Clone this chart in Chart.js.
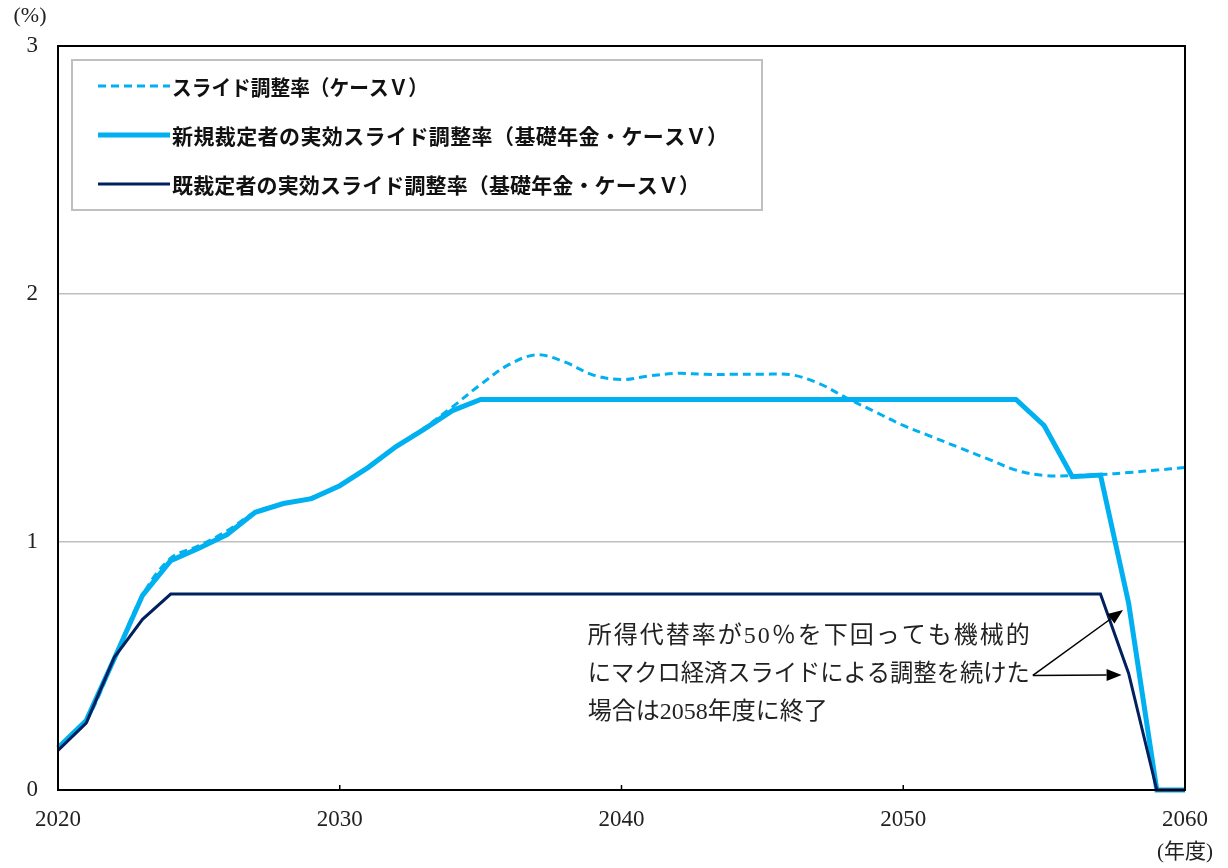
<!DOCTYPE html>
<html>
<head>
<meta charset="utf-8">
<script src="https://cdn.jsdelivr.net/npm/chart.js@4.4.1/dist/chart.umd.min.js"></script>
<style>
  html, body { margin: 0; padding: 0; background: #fff; }
  #wrap { width: 1228px; height: 868px; }
</style>
</head>
<body>
<div id="wrap"><canvas id="chart" width="1228" height="868"></canvas></div>
<script>
// 年度
const years = [2020, 2021, 2022, 2023, 2024, 2025, 2026, 2027, 2028, 2029,
               2030, 2031, 2032, 2033, 2034, 2035, 2036, 2037, 2038, 2039,
               2040, 2041, 2042, 2043, 2044, 2045, 2046, 2047, 2048, 2049,
               2050, 2051, 2052, 2053, 2054, 2055, 2056, 2057, 2058, 2059, 2060];

// スライド調整率（ケースＶ）
const slideRate = [0.17, 0.28, 0.53, 0.785, 0.935, 0.985, 1.045, 1.12, 1.155, 1.18,
                   1.227, 1.30, 1.385, 1.46, 1.545, 1.635, 1.715, 1.755, 1.725, 1.673,
                   1.655, 1.67, 1.68, 1.676, 1.676, 1.676, 1.675, 1.64, 1.58, 1.525,
                   1.47, 1.425, 1.38, 1.335, 1.29, 1.268, 1.268, 1.272, 1.28, 1.29, 1.30];

// 新規裁定者の実効スライド調整率（基礎年金・ケースＶ）
const newRate = [0.17, 0.28, 0.53, 0.785, 0.925, 0.975, 1.03, 1.12, 1.155, 1.175,
                 1.227, 1.30, 1.385, 1.455, 1.53, 1.575, 1.575, 1.575, 1.575, 1.575,
                 1.575, 1.575, 1.575, 1.575, 1.575, 1.575, 1.575, 1.575, 1.575, 1.575,
                 1.575, 1.575, 1.575, 1.575, 1.575, 1.47, 1.263, 1.27, 0.753, 0, 0];

// 既裁定者の実効スライド調整率（基礎年金・ケースＶ）
const oldRate = [0.16, 0.27, 0.535, 0.688, 0.79, 0.79, 0.79, 0.79, 0.79, 0.79,
                 0.79, 0.79, 0.79, 0.79, 0.79, 0.79, 0.79, 0.79, 0.79, 0.79,
                 0.79, 0.79, 0.79, 0.79, 0.79, 0.79, 0.79, 0.79, 0.79, 0.79,
                 0.79, 0.79, 0.79, 0.79, 0.79, 0.79, 0.79, 0.79, 0.47, 0, 0];

const seriesNames = ['スライド調整率（ケースＶ）',
                     '新規裁定者の実効スライド調整率（基礎年金・ケースＶ）',
                     '既裁定者の実効スライド調整率（基礎年金・ケースＶ）'];

const yTicks = [0, 1, 2, 3];
const xTicks = [2020, 2030, 2040, 2050, 2060];

// 注記（データ座標）
const noteLines = ['所得代替率が50％を下回っても機械的',
                   'にマクロ経済スライドによる調整を続けた',
                   '場合は2058年度に終了'];
const noteAt = { x: 2038.8, y: 0.617 };
const arrowFrom = { x: 2054.6, y: 0.462 };
const arrowTo = [{ x: 2057.8, y: 0.726 }, { x: 2057.75, y: 0.464 }];

const LIGHT = '#00B0F0';
const DARK = '#002060';
const serif = '"Liberation Serif", "DejaVu Serif", serif';
const cjk = '"Noto Sans CJK JP", "Noto Sans", sans-serif';

function toPoints(vals) {
    return years.map((y, i) => ({ x: y, y: vals[i] }));
}

// 幅を合わせて文字を描く
function fitText(ctx, s, x, y, w) {
    ctx.letterSpacing = '0px';
    const nat = ctx.measureText(s).width;
    if (nat > w) {
        ctx.fillText(s, x, y, w);
    } else {
        ctx.letterSpacing = ((w - nat) / Math.max(1, s.length - 1)) + 'px';
        ctx.fillText(s, x, y);
        ctx.letterSpacing = '0px';
    }
}

function arrow(ctx, x1, y1, x2, y2) {
    const a = Math.atan2(y2 - y1, x2 - x1);
    const len = 15, w = 6;
    ctx.beginPath();
    ctx.moveTo(x1, y1);
    ctx.lineTo(x2 - Math.cos(a) * len, y2 - Math.sin(a) * len);
    ctx.stroke();
    ctx.beginPath();
    ctx.moveTo(x2, y2);
    ctx.lineTo(x2 - Math.cos(a) * len - Math.sin(a) * w, y2 - Math.sin(a) * len + Math.cos(a) * w);
    ctx.lineTo(x2 - Math.cos(a) * len + Math.sin(a) * w, y2 - Math.sin(a) * len - Math.cos(a) * w);
    ctx.closePath();
    ctx.fill();
}

// 枠線・凡例・注記を描くプラグイン
const extras = {
    id: 'extras',
    afterDatasetsDraw(chart) {
        const ctx = chart.ctx;
        const area = chart.chartArea;
        const xs = chart.scales.x, ys = chart.scales.y;
        ctx.save();

        // 枠
        ctx.strokeStyle = '#000';
        ctx.lineWidth = 2;
        ctx.strokeRect(area.left, area.top, area.right - area.left, area.bottom - area.top);
        // x軸の目盛り
        ctx.lineWidth = 1.5;
        xTicks.forEach(t => {
            const px = xs.getPixelForValue(t);
            ctx.beginPath();
            ctx.moveTo(px, area.bottom);
            ctx.lineTo(px, area.bottom - 5);
            ctx.stroke();
        });

        // 単位
        ctx.fillStyle = '#222';
        ctx.font = '22px ' + serif;
        ctx.textAlign = 'center';
        ctx.textBaseline = 'middle';
        ctx.fillText('(%)', 30, 16);
        ctx.font = '21px ' + serif + ', ' + cjk;
        ctx.fillText('(年度)', area.right, 852);

        // 凡例
        const lx = area.left + 14, ly = area.top + 14;
        ctx.fillStyle = '#fff';
        ctx.fillRect(lx, ly, 690, 150);
        ctx.strokeStyle = '#bfbfbf';
        ctx.lineWidth = 2;
        ctx.strokeRect(lx, ly, 690, 150);
        const legendW = [256, 556, 528];
        chart.data.datasets.forEach((d, i) => {
            const ry = ly + 26 + i * 49;
            ctx.strokeStyle = d.borderColor;
            ctx.lineWidth = d.borderWidth;
            ctx.setLineDash(d.borderDash || []);
            ctx.beginPath();
            ctx.moveTo(lx + 26, ry);
            ctx.lineTo(lx + 98, ry);
            ctx.stroke();
            ctx.setLineDash([]);
            ctx.fillStyle = '#111';
            ctx.font = 'bold 21px ' + cjk;
            ctx.textAlign = 'left';
            fitText(ctx, d.label, lx + 100, ry + 1, legendW[i]);
        });

        // 注記
        ctx.fillStyle = '#222';
        ctx.font = '24px ' + serif + ', ' + cjk;
        ctx.textAlign = 'left';
        const noteW = [442, 442, 240];
        const nx = xs.getPixelForValue(noteAt.x), ny = ys.getPixelForValue(noteAt.y);
        noteLines.forEach((s, i) => fitText(ctx, s, nx, ny + i * 38, noteW[i]));

        // 矢印
        ctx.strokeStyle = '#000';
        ctx.fillStyle = '#000';
        ctx.lineWidth = 1.5;
        const fx = xs.getPixelForValue(arrowFrom.x), fy = ys.getPixelForValue(arrowFrom.y);
        arrowTo.forEach(p => arrow(ctx, fx, fy, xs.getPixelForValue(p.x), ys.getPixelForValue(p.y)));

        ctx.restore();
    }
};

new Chart(document.getElementById('chart').getContext('2d'), {
    type: 'line',
    data: {
        datasets: [
            {
                label: seriesNames[0],
                data: toPoints(slideRate),
                borderColor: LIGHT,
                borderWidth: 3,
                borderDash: [8, 5],
                tension: 0.35,
                pointRadius: 0,
                clip: 6,
                order: 2
            },
            {
                label: seriesNames[1],
                data: toPoints(newRate),
                borderColor: LIGHT,
                borderWidth: 5,
                tension: 0,
                pointRadius: 0,
                clip: 6,
                order: 3
            },
            {
                label: seriesNames[2],
                data: toPoints(oldRate),
                borderColor: DARK,
                borderWidth: 3,
                tension: 0,
                pointRadius: 0,
                clip: 6,
                order: 1
            }
        ]
    },
    options: {
        responsive: false,
        animation: false,
        layout: { padding: { top: 46, right: 43, left: 0, bottom: 0 } },
        plugins: {
            legend: { display: false },
            tooltip: { enabled: false }
        },
        scales: {
            x: {
                type: 'linear',
                min: 2020,
                max: 2060,
                afterBuildTicks: s => { s.ticks = xTicks.map(v => ({ value: v })); },
                afterFit: s => { s.height = 78; },
                grid: { display: false, drawTicks: false },
                border: { display: false },
                ticks: {
                    padding: 16,
                    maxRotation: 0,
                    color: '#222',
                    font: { family: serif, size: 23 },
                    callback: v => String(v)
                }
            },
            y: {
                min: 0,
                max: 3,
                afterBuildTicks: s => { s.ticks = yTicks.map(v => ({ value: v })); },
                afterFit: s => { s.width = 58; },
                grid: { color: '#bfbfbf', lineWidth: 1.5, drawTicks: false },
                border: { display: false },
                ticks: {
                    padding: 20,
                    color: '#222',
                    font: { family: serif, size: 23 },
                    callback: v => String(v)
                }
            }
        }
    },
    plugins: [extras]
});
</script>
</body>
</html>
